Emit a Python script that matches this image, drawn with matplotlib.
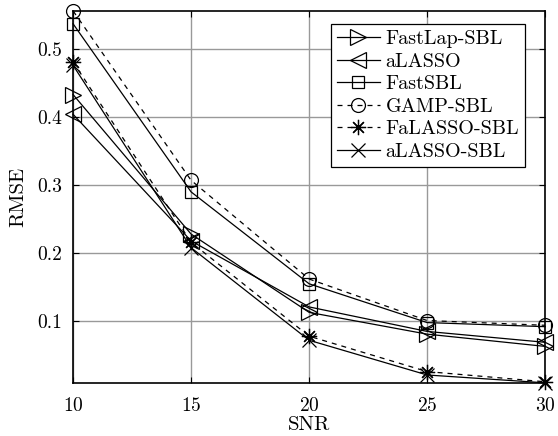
import numpy as np
import matplotlib
matplotlib.use("Agg")
import matplotlib.pyplot as plt

plt.rcParams['font.family'] = 'serif'
plt.rcParams['font.serif'] = ['cmr10', 'DejaVu Serif']
plt.rcParams['axes.formatter.use_mathtext'] = True
plt.rcParams['mathtext.fontset'] = 'cm'

snr = [10, 15, 20, 25, 30]
fastlap_sbl = [0.433, 0.228, 0.113, 0.081, 0.063]
alasso = [0.404, 0.218, 0.121, 0.085, 0.069]
fastsbl = [0.537, 0.290, 0.155, 0.098, 0.092]
gamp_sbl = [0.556, 0.307, 0.162, 0.101, 0.094]
falasso_sbl = [0.481, 0.216, 0.078, 0.026, 0.011]
alasso_sbl = [0.476, 0.208, 0.072, 0.021, 0.0095]

labels = ['FastLap-SBL', 'aLASSO', 'FastSBL', 'GAMP-SBL', 'FaLASSO-SBL', 'aLASSO-SBL']
series = [fastlap_sbl, alasso, fastsbl, gamp_sbl, falasso_sbl, alasso_sbl]
markers = ['>', '<', 's', 'o', (8, 2, 0), 'x']
styles = ['-', '-', '-', '--', '--', '-']
msizes = [11, 11, 9, 10, 11, 10]

fig = plt.figure(figsize=(5.58, 4.36), dpi=100)
ax = fig.add_axes([0.131, 0.122, 0.846, 0.853])

for y, lab, m, ls, ms in zip(series, labels, markers, styles, msizes):
    ax.plot(snr, y, linestyle=ls, color='black', linewidth=0.9,
            marker=m, markersize=ms, markerfacecolor='none',
            markeredgecolor='black', markeredgewidth=0.9, label=lab,
            dashes=(4, 4) if ls == '--' else (None, None), clip_on=False)

allv = np.concatenate([np.asarray(s) for s in series])
ax.set_xlim(10, 30)
ax.set_ylim(allv.min(), allv.max())
ax.set_xticks([10, 15, 20, 25, 30])
ax.set_yticks([0.1, 0.2, 0.3, 0.4, 0.5])
ax.set_yticklabels(['0.1', '0.2', '0.3', '0.4', '0.5'])
ax.grid(True, color='#999999', linewidth=1.0, linestyle='-')
ax.set_axisbelow(True)
ax.tick_params(direction='in', top=True, right=True, labelsize=14, length=4, width=0.8)
ax.tick_params(axis='x', pad=10)
ax.tick_params(axis='y', pad=8)
for sp in ax.spines.values():
    sp.set_linewidth(1.2)
ax.set_xlabel('SNR', fontsize=15, labelpad=1)
ax.set_ylabel('RMSE', fontsize=15, labelpad=7)

leg = ax.legend(loc='upper right', bbox_to_anchor=(0.958, 0.965), fontsize=14.5,
                frameon=True, fancybox=False, edgecolor='black', framealpha=1,
                handlelength=2.1, handletextpad=0.3, labelspacing=0.22,
                borderpad=0.3, borderaxespad=0)
leg.get_frame().set_linewidth(0.9)

fig.savefig('out.png', dpi=100)
